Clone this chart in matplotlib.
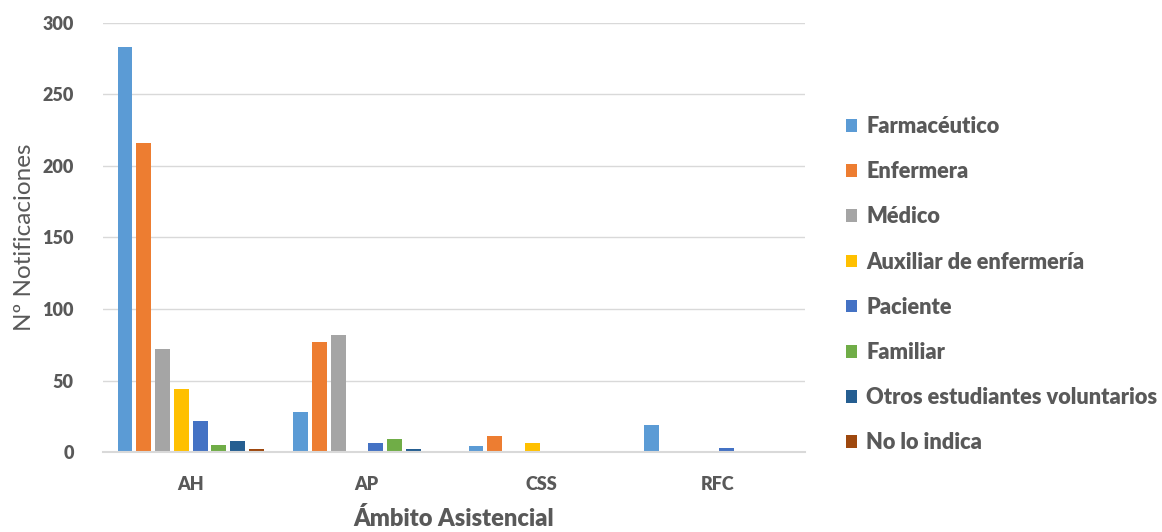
import matplotlib
matplotlib.use("Agg")
import matplotlib.pyplot as plt
import numpy as np

categories = ["AH", "AP", "CSS", "RFC"]
series_names = ["Farmacéutico", "Enfermera", "Médico", "Auxiliar de enfermería",
                "Paciente", "Familiar", "Otros estudiantes voluntarios", "No lo indica"]
farmaceutico = [283, 28, 4, 19]
enfermera = [216, 77, 11, 0]
medico = [72, 82, 1, 0]
auxiliar = [44, 0, 6, 0]
paciente = [22, 6, 1, 3]
familiar = [5, 9, 1, 0]
otros = [8, 2, 0, 0]
no_indica = [2, 1, 0, 1]
series_values = [farmaceutico, enfermera, medico, auxiliar, paciente, familiar, otros, no_indica]
colors = ["#5B9BD5", "#ED7D31", "#A5A5A5", "#FFC000", "#4472C4", "#70AD47", "#255E91", "#9E480E"]
yticks = [0, 50, 100, 150, 200, 250, 300]

plt.rcParams['font.family'] = ['Lato', 'DejaVu Sans']
fig = plt.figure(figsize=(11.62, 5.32), dpi=100)
ax = fig.add_axes([103 / 1162, 1 - 452 / 532, 702 / 1162, 429 / 532])

x = np.arange(len(categories))
step = 0.107
width = 0.085
for i, (name, vals, c) in enumerate(zip(series_names, series_values, colors)):
    ax.bar(x + (i - 3.5) * step, vals, width=width, color=c, label=name, zorder=3)

ax.set_xlim(-0.5, 3.5)
ax.set_ylim(0, 300)
ax.set_yticks(yticks)
ax.set_xticks(x)
ax.set_xticklabels(categories)
ax.yaxis.grid(True, color="#D9D9D9", linewidth=1.0, zorder=0)
ax.tick_params(axis="y", length=0, labelsize=13, labelcolor="#595959", pad=21)
ax.tick_params(axis="x", length=0, labelsize=13, labelcolor="#595959", pad=17)
for lbl in ax.get_xticklabels() + ax.get_yticklabels():
    lbl.set_fontweight("heavy")
for side in ["top", "right", "left"]:
    ax.spines[side].set_visible(False)
ax.spines["bottom"].set_color("#D9D9D9")
ax.spines["bottom"].set_linewidth(1.5)
ax.spines["bottom"].set_zorder(4)

ax.set_ylabel("Nº Notificaciones", fontsize=17.5, color="#595959", labelpad=5)
ax.set_xlabel("Ámbito Asistencial", fontsize=17, color="#595959", fontweight="heavy", labelpad=10)

leg = fig.legend(loc="upper left", bbox_to_anchor=(846 / 1162, 1 - 116 / 532),
                 frameon=False, handlelength=0.52, handleheight=0.52,
                 handletextpad=0.4, labelspacing=1.11, fontsize=15.7,
                 borderaxespad=0, borderpad=0)
for t in leg.get_texts():
    t.set_color("#595959")
    t.set_fontweight("heavy")

fig.savefig("out.png", dpi=100)
